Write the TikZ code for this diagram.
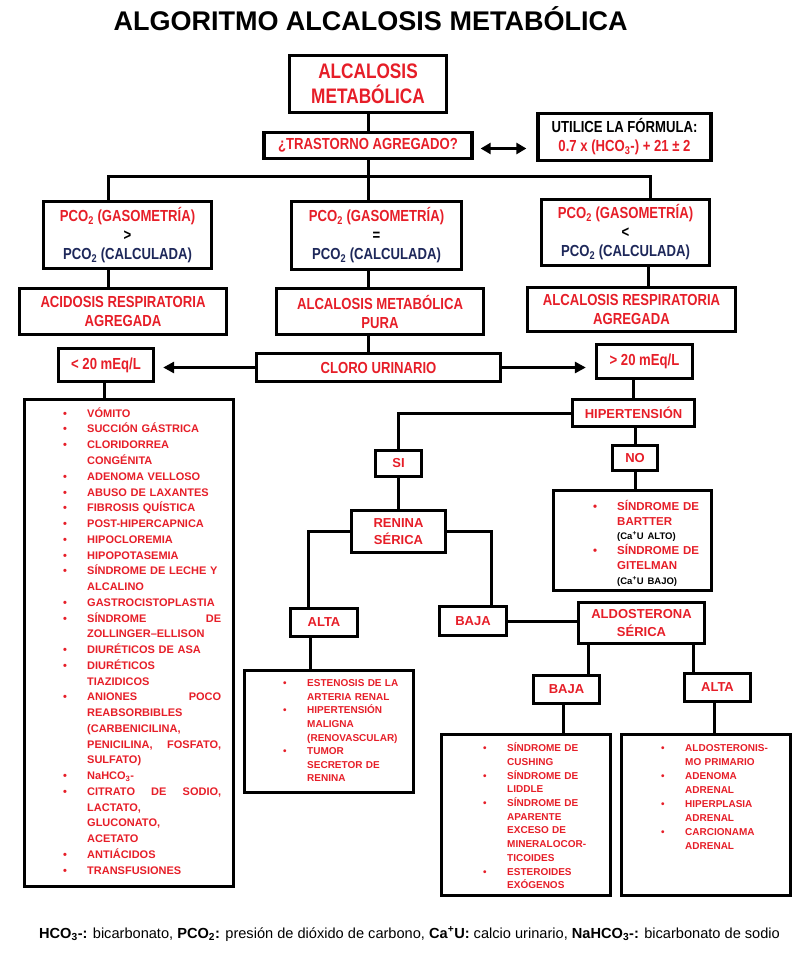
\documentclass[tikz,border=0pt]{standalone}
\usepackage{fontspec}
\setmainfont{Liberation Sans}
\newfontfamily\narrowfont[FakeStretch=0.82]{Liberation Sans}
\usetikzlibrary{arrows.meta}
\definecolor{boxred}{RGB}{230,30,40}
\definecolor{calcblue}{RGB}{30,40,90}
\newcommand{\bl}{\makebox[24pt][l]{\textbullet}}
\newcommand{\nb}{\makebox[24pt]{}}
\newcommand{\fl}{\rule{0pt}{1em}}
\begin{document}
\begin{tikzpicture}[x=1pt,y=-1pt]
    \tikzset{every node/.style={inner sep=0pt},
        box/.style={draw, line width=3.3pt, align=center, text=boxred,
            font=\narrowfont\bfseries\fontsize{16}{19}\selectfont},
        smallbox/.style={draw, line width=3.3pt, align=center, text=boxred,
            font=\bfseries\fontsize{13}{17.6}\selectfont},
        listbox/.style={draw, line width=3.3pt},
        listtext/.style={anchor=north west, align=left, text=boxred},
        conn/.style={line width=3pt},
        arrowline/.style={line width=3pt, -{Triangle[length=11pt,width=11pt]}}}
    \useasboundingbox (0,0) rectangle (799,960);
    % title
    \node[font=\bfseries\fontsize{27}{30}\selectfont] (title) at (370.5,19) {ALGORITMO ALCALOSIS METABÓLICA};
    % start
    \node[box, minimum width=157pt, minimum height=57pt,
        font=\narrowfont\bfseries\fontsize{21}{25}\selectfont] (alc) at (368,84) {ALCALOSIS\\METABÓLICA};
    \node[box, minimum width=208pt, minimum height=26pt] (trast) at (368,145.5) {¿TRASTORNO AGREGADO?};
    \node[box, minimum width=173pt, minimum height=47pt, text=black] (form) at (624.5,137)
        {UTILICE LA FÓRMULA:\\\textcolor{boxred}{0.7 x (HCO\textsubscript{3}-) + 21 ± 2}};
    \draw[conn] (alc) -- (trast);
    \draw[conn, {Triangle[length=10pt,width=11pt]}-{Triangle[length=10pt,width=11pt]}, shorten <=7pt, shorten >=10pt]
        ([yshift=-3pt]trast.east) -- ([yshift=-3pt]trast.east -| form.west);
    % pco2 comparison
    \node[box, minimum width=168pt, minimum height=67pt] (gasL) at (127.5,235)
        {PCO\textsubscript{2} (GASOMETRÍA)\\\textcolor{black}{>}\\\textcolor{calcblue}{PCO\textsubscript{2} (CALCULADA)}};
    \node[box, minimum width=170pt, minimum height=68pt] (gasM) at (376.5,235.5)
        {PCO\textsubscript{2} (GASOMETRÍA)\\\textcolor{black}{=}\\\textcolor{calcblue}{PCO\textsubscript{2} (CALCULADA)}};
    \node[box, minimum width=168pt, minimum height=66pt] (gasR) at (625.5,232.5)
        {PCO\textsubscript{2} (GASOMETRÍA)\\\textcolor{black}{<}\\\textcolor{calcblue}{PCO\textsubscript{2} (CALCULADA)}};
    \coordinate (barL) at (108,177);
    \coordinate (barR) at (650,177);
    \draw[conn] (barL |- gasL.north) -- (barL) -- (barR) -- (barR |- gasR.north);
    \draw[conn] (trast.south) -- (trast.south |- gasM.north);
    % results
    \node[box, minimum width=207pt, minimum height=46pt] (acL) at (123,311.5) {ACIDOSIS RESPIRATORIA\\AGREGADA};
    \node[box, minimum width=207pt, minimum height=46pt] (acM) at (380,311.5) {ALCALOSIS METABÓLICA\\PURA};
    \node[box, minimum width=208pt, minimum height=44pt] (acR) at (631.5,309.5) {ALCALOSIS RESPIRATORIA\\AGREGADA};
    \draw[conn] (barL |- gasL.south) -- (barL |- acL.north);
    \draw[conn] (trast.south |- gasM.south) -- (trast.south |- acM.north);
    \draw[conn] ([xshift=-2pt]barR |- gasR.south) -- ([xshift=-2pt]barR |- acR.north);
    % urinary chloride
    \node[box, minimum width=95pt, minimum height=33pt] (lo) at (106,365) {< 20 mEq/L};
    \node[box, minimum width=244pt, minimum height=28pt] (cloro) at (378.5,367.5) {CLORO URINARIO};
    \node[box, minimum width=96pt, minimum height=34pt] (hi) at (644.5,361.5) {> 20 mEq/L};
    \draw[conn] (trast.south |- acM.south) -- (trast.south |- cloro.north);
    \draw[arrowline, shorten >=8pt] (cloro.west) -- (cloro.west -| lo.east);
    \draw[arrowline, shorten >=9pt] (cloro.east) -- (cloro.east -| hi.west);
    % left list (cloro < 20)
    \node[listbox, minimum width=209pt, minimum height=487pt] (lst) at (129,643) {};
    \draw[conn] ([xshift=-2pt]lo.south) -- ([xshift=-2pt]lo.south |- lst.north);
    \node[listtext, text width=158pt, font=\bfseries\fontsize{11}{15.76}\selectfont] (lsttxt) at (63,406) {%
        \fl\bl VÓMITO\\
        \bl SUCCIÓN GÁSTRICA\\
        \bl CLORIDORREA\\
        \nb CONGÉNITA\\
        \bl ADENOMA VELLOSO\\
        \bl ABUSO DE LAXANTES\\
        \bl FIBROSIS QUÍSTICA\\
        \bl POST-HIPERCAPNICA\\
        \bl HIPOCLOREMIA\\
        \bl HIPOPOTASEMIA\\
        \bl SÍNDROME DE LECHE Y\\
        \nb ALCALINO\\
        \bl GASTROCISTOPLASTIA\\
        \bl SÍNDROME\hfill DE\\
        \nb ZOLLINGER–ELLISON\\
        \bl DIURÉTICOS DE ASA\\
        \bl DIURÉTICOS\\
        \nb TIAZIDICOS\\
        \bl ANIONES\hfill POCO\\
        \nb REABSORBIBLES\\
        \nb (CARBENICILINA,\\
        \nb PENICILINA,\hfill FOSFATO,\\
        \nb SULFATO)\\
        \bl NaHCO\textsubscript{3}-\\
        \bl CITRATO\hfill DE\hfill SODIO,\\
        \nb LACTATO,\\
        \nb GLUCONATO,\\
        \nb ACETATO\\
        \bl ANTIÁCIDOS\\
        \bl TRANSFUSIONES};
    % hypertension branch (cloro > 20)
    \node[smallbox, minimum width=122pt, minimum height=27pt] (hiper) at (633.5,413) {HIPERTENSIÓN};
    \node[smallbox, minimum width=46pt, minimum height=26pt] (si) at (398.5,463.5) {SI};
    \node[smallbox, minimum width=45pt, minimum height=25pt] (no) at (635,458) {NO};
    \node[smallbox, minimum width=94pt, minimum height=42pt] (renina) at (398.5,531.5) {RENINA\\SÉRICA};
    \node[listbox, minimum width=158pt, minimum height=100pt] (bart) at (632.5,540.5) {};
    \node[listtext, text width=110pt, font=\bfseries\fontsize{11.5}{14.8}\selectfont] (barttxt) at (593,498.5) {%
        \fl\bl SÍNDROME DE\\
        \nb BARTTER\\
        \nb {\color{black}\fontsize{9.5}{14.8}\selectfont (Ca\textsuperscript{+}U ALTO)}\\
        \bl SÍNDROME DE\\
        \nb GITELMAN\\
        \nb {\color{black}\fontsize{9.5}{14.8}\selectfont (Ca\textsuperscript{+}U BAJO)}};
    \draw[conn] (hiper.north |- hi.south) -- (hiper.north);
    \draw[conn] (hiper.south -| no) -- (no.north);
    \draw[conn] (no.south) -- (no.south |- bart.north);
    \draw[conn] (hiper.west) -| (si.north);
    \draw[conn] (si.south) -- (renina.north);
    % renin
    \node[smallbox, minimum width=67pt, minimum height=28pt] (altaR) at (324,622.5) {ALTA};
    \node[smallbox, minimum width=67pt, minimum height=29pt] (bajaR) at (473,621) {BAJA};
    \node[smallbox, minimum width=126pt, minimum height=41pt] (aldo) at (641.5,623) {ALDOSTERONA\\SÉRICA};
    \draw[conn] (renina.west) -| ([xshift=-16pt]altaR.north);
    \draw[conn] (renina.east) -| ([xshift=18pt]bajaR.north);
    \draw[conn] (bajaR.east) -- (bajaR.east -| aldo.west);
    \node[listbox, minimum width=169pt, minimum height=122pt] (renal) at (329,731.5) {};
    \draw[conn] ([xshift=-14pt]altaR.south) -- ([xshift=-14pt]altaR.south |- renal.north);
    \node[listtext, text width=120pt, font=\bfseries\fontsize{10}{13.6}\selectfont] (renaltxt) at (283,676.5) {%
        \fl\bl ESTENOSIS DE LA\\
        \nb ARTERIA RENAL\\
        \bl HIPERTENSIÓN\\
        \nb MALIGNA\\
        \nb (RENOVASCULAR)\\
        \bl TUMOR\\
        \nb SECRETOR DE\\
        \nb RENINA};
    % aldosterone
    \node[smallbox, minimum width=66pt, minimum height=28pt] (bajaA) at (566.5,689.5) {BAJA};
    \node[smallbox, minimum width=66pt, minimum height=28pt] (altaA) at (717.5,687.5) {ALTA};
    \draw[conn] ([xshift=21.5pt]bajaA.north) -- ([xshift=21.5pt]bajaA.north |- aldo.south);
    \draw[conn] ([xshift=-24.5pt]altaA.north) -- ([xshift=-24.5pt]altaA.north |- aldo.south);
    \node[listbox, minimum width=169pt, minimum height=161pt] (lowlst) at (526,815) {};
    \node[listbox, minimum width=169pt, minimum height=161pt] (highlst) at (706,815) {};
    \draw[conn] ([xshift=-3.5pt]bajaA.south) -- ([xshift=-3.5pt]bajaA.south |- lowlst.north);
    \draw[conn] ([xshift=-3.5pt]altaA.south) -- ([xshift=-3.5pt]altaA.south |- highlst.north);
    \node[listtext, text width=120pt, font=\bfseries\fontsize{10}{13.7}\selectfont] (lowtxt) at (483,741.5) {%
        \fl\bl SÍNDROME DE\\
        \nb CUSHING\\
        \bl SÍNDROME DE\\
        \nb LIDDLE\\
        \bl SÍNDROME DE\\
        \nb APARENTE\\
        \nb EXCESO DE\\
        \nb MINERALOCOR-\\
        \nb TICOIDES\\
        \bl ESTEROIDES\\
        \nb EXÓGENOS};
    \node[listtext, text width=120pt, font=\bfseries\fontsize{10}{13.9}\selectfont] (hightxt) at (661,741.5) {%
        \fl\bl ALDOSTERONIS-\\
        \nb MO PRIMARIO\\
        \bl ADENOMA\\
        \nb ADRENAL\\
        \bl HIPERPLASIA\\
        \nb ADRENAL\\
        \bl CARCIONAMA\\
        \nb ADRENAL};
    % legend
    \node[font=\fontsize{14.6}{17}\selectfont] (legend) at (409.5,934) {\textbf{HCO\textsubscript{3}-:} bicarbonato, \textbf{PCO\textsubscript{2}:} presión de dióxido de carbono, \textbf{Ca\textsuperscript{+}U:} calcio urinario, \textbf{NaHCO\textsubscript{3}-:} bicarbonato de sodio};
\end{tikzpicture}
\end{document}
